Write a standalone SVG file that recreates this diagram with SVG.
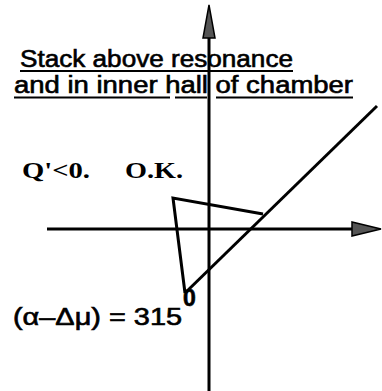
<svg xmlns="http://www.w3.org/2000/svg" width="382" height="391" viewBox="0 0 382 391">
<style>
.ln{stroke:#000;stroke-width:3;fill:none;stroke-linecap:butt}
.ul{stroke:#000;stroke-width:2}
.t1{font-family:"Liberation Sans",Arial,sans-serif;font-size:23px;fill:#000;stroke:#000;stroke-width:0.6}
.t2{font-family:"Liberation Serif","Times New Roman",serif;font-size:24px;font-weight:bold;fill:#000}
.ah{fill:#555;stroke:#000;stroke-width:1.5;stroke-linejoin:miter}
</style>
<rect width="382" height="391" fill="#fff"/>
<g id="title">
<text class="t1" x="20" y="67" textLength="273" lengthAdjust="spacingAndGlyphs">Stack above resonance</text>
<line class="ul" x1="20" y1="71" x2="293" y2="71"/>
<text class="t1" x="14" y="93" textLength="339" lengthAdjust="spacingAndGlyphs">and in inner hall of chamber</text>
<line class="ul" x1="14" y1="97.5" x2="170" y2="97.5"/>
<line class="ul" x1="175" y1="97.5" x2="207" y2="97.5"/>
<line class="ul" x1="216" y1="97.5" x2="353" y2="97.5"/>
</g>
<g id="labels">
<text class="t2" x="22" y="178" textLength="68" lengthAdjust="spacingAndGlyphs">Q'&lt;0.</text>
<text class="t2" x="125" y="178" textLength="58" lengthAdjust="spacingAndGlyphs">O.K.</text>
<text class="t1" x="13" y="325" textLength="169" lengthAdjust="spacingAndGlyphs" font-size="26">(α–Δμ) = 315</text>
<text class="t1" x="183" y="306" font-size="16" font-weight="bold">0</text>
</g>
<g id="connectors">
<line class="ln" x1="209" y1="36" x2="209" y2="391"/>
<polygon class="ah" points="209,5 215,38 203,38"/>
<line class="ln" x1="47" y1="229" x2="354" y2="229"/>
<polygon class="ah" points="381,229 352,222 352,236"/>
<line class="ln" x1="377" y1="106" x2="185" y2="293"/>
<polyline class="ln" points="185,293 173,198 263,214" stroke-linejoin="miter"/>
</g>
</svg>
